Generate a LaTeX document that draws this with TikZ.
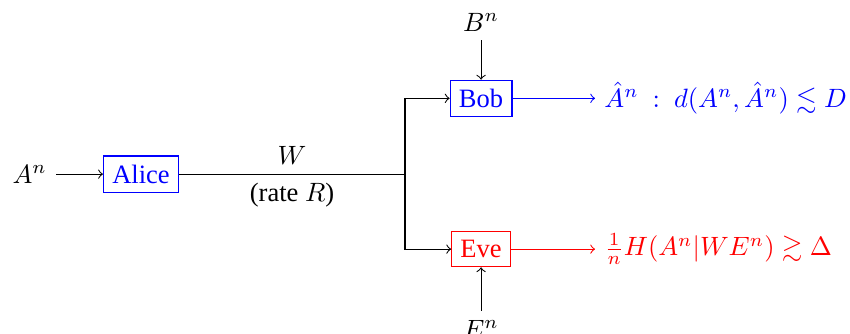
\documentclass[tikz,border=0pt]{standalone}
\usepackage{amssymb}
\usepackage{fontspec}
\setmainfont{Liberation Serif}
\begin{document}
\begin{tikzpicture}[>=to]
  \useasboundingbox (-53.2pt,-60pt) rectangle (267.5pt,65.7pt);

  % Alice encodes the source
  \node[draw=blue, text=blue] (alice) at (0,0) {Alice};
  \node (src) at (-42pt,0) {$A^n$};
  \draw[->] (src) -- (alice);

  % Public message W, split to both receivers
  \coordinate (split) at (99.6pt,0);
  \draw (alice) -- node[above] {$W$} node[below] {(rate $R$)} (split);

  % Legitimate receiver
  \node[draw=blue, text=blue] (bob) at (128.3pt,28.6pt) {Bob};
  \node (sideb) at (128.3pt,57.4pt) {$B^n$};
  \draw[->] (sideb) -- (bob);
  \draw[->] (split) |- (bob);
  \node[blue, anchor=west] (bobout) at (171.3pt,28.6pt) {$\hat{A}^n\ :\ d(A^n,\hat{A}^n)\lesssim D$};
  \draw[->, blue] (bob) -- (bobout);

  % Eavesdropper
  \node[draw=red, text=red] (eve) at (128.3pt,-28.3pt) {Eve};
  \node (sidee) at (128.3pt,-58.5pt) {$E^n$};
  \draw[->] (sidee) -- (eve);
  \draw[->] (split) |- (eve);
  \node[red, anchor=west] (eveout) at (171.3pt,-28.3pt) {$\frac{1}{n}H(A^n|WE^n)\gtrsim\Delta$};
  \draw[->, red] (eve) -- (eveout);
\end{tikzpicture}
\end{document}
